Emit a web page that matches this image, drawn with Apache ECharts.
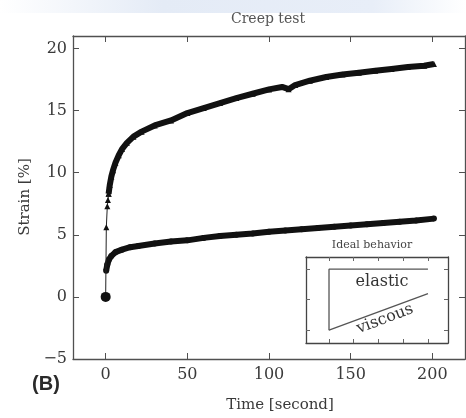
<!DOCTYPE html>
<html><head><meta charset="utf-8">
<script src="https://cdn.jsdelivr.net/npm/echarts@6/dist/echarts.min.js"></script>
<style>html,body{margin:0;padding:0;background:#fff}#c{width:466px;height:418px}</style>
</head><body><div id="c"></div>
<script>
// Main chart data (Time [second], Strain [%])
const upperT = [0, 0.4, 1.0, 1.4, 1.8, 2.5, 3.5, 4.5, 6, 8, 10, 13, 17, 22, 30, 40, 50, 60, 70, 80, 90, 100, 108, 112, 116, 125, 135, 145, 155, 165, 175, 185, 195, 201];
const upperS = [0, 5.6, 7.3, 7.8, 8.3, 9.0, 9.7, 10.2, 10.8, 11.4, 11.9, 12.4, 12.9, 13.3, 13.8, 14.2, 14.8, 15.2, 15.6, 16.0, 16.35, 16.7, 16.9, 16.72, 17.05, 17.4, 17.7, 17.9, 18.05, 18.2, 18.35, 18.5, 18.6, 18.75];
const lowerT = [0, 0.3, 1, 2, 3.5, 6, 10, 15, 20, 30, 40, 50, 60, 70, 80, 90, 100, 110, 120, 130, 140, 150, 160, 170, 180, 190, 201];
const lowerS = [0, 2.1, 2.6, 3.0, 3.3, 3.6, 3.8, 4.0, 4.1, 4.3, 4.45, 4.55, 4.75, 4.9, 5.0, 5.1, 5.25, 5.35, 5.45, 5.55, 5.65, 5.75, 5.85, 5.95, 6.05, 6.15, 6.3];
const xTicks = [0, 50, 100, 150, 200];
const yTicks = [-5, 0, 5, 10, 15, 20];
// Inset "Ideal behavior"
const elasticX = [0, 0, 4];
const elasticY = [0, 2, 2];
const viscousX = [0, 4];
const viscousY = [0, 1.2];
const insetXTicks = [0, 1, 2, 3, 4];
const insetYTicks = [0, 1, 2];

const pair = (xs, ys) => xs.map((x, i) => [x, ys[i]]);
const upper = pair(upperT, upperS);
const lower = pair(lowerT, lowerS);

const serif = 'DejaVu Serif';
const axisCol = '#505050';
const txtCol = '#3a3a3a';

function mainX(show, pos) {
  return {
    type: 'value', gridIndex: 0, min: -20, max: 220, position: pos,
    axisLine: { show: true, onZero: false, lineStyle: { color: axisCol, width: 1.3 } },
    axisTick: { show: true, inside: true, length: 6, customValues: xTicks, lineStyle: { color: axisCol } },
    axisLabel: { show: show, customValues: xTicks, margin: 8, color: txtCol, fontFamily: serif, fontSize: 16 },
    splitLine: { show: false }
  };
}
function mainY(show, pos) {
  return {
    type: 'value', gridIndex: 0, min: -5, max: 21, position: pos,
    axisLine: { show: true, onZero: false, lineStyle: { color: axisCol, width: 1.3 } },
    axisTick: { show: true, inside: true, length: 6, customValues: yTicks, lineStyle: { color: axisCol } },
    axisLabel: { show: show, customValues: yTicks, margin: 6, color: txtCol, fontFamily: serif, fontSize: 16,
      formatter: v => (v < 0 ? '\u2212' + Math.abs(v) : String(v)) },
    splitLine: { show: false }
  };
}
function insetX(pos) {
  return {
    type: 'value', gridIndex: 1, min: -0.93, max: 4.81, position: pos,
    axisLine: { show: true, onZero: false, lineStyle: { color: '#444', width: 1.3 } },
    axisTick: { show: true, inside: true, length: 4, customValues: insetXTicks, lineStyle: { color: '#666' } },
    axisLabel: { show: false }, splitLine: { show: false }
  };
}
function insetY(pos) {
  return {
    type: 'value', gridIndex: 1, min: -0.42, max: 2.4, position: pos,
    axisLine: { show: true, onZero: false, lineStyle: { color: '#444', width: 1.3 } },
    axisTick: { show: true, inside: true, length: 4, customValues: insetYTicks, lineStyle: { color: '#666' } },
    axisLabel: { show: false }, splitLine: { show: false }
  };
}

const chart = echarts.init(document.getElementById('c'), null, { renderer: 'canvas' });
chart.setOption({
  animation: false,
  backgroundColor: '#fff',
  grid: [
    { left: 73, top: 36, right: 1, bottom: 59 },
    { left: 306, top: 257, width: 142, height: 86, backgroundColor: '#fff', show: true, borderWidth: 0 }
  ],
  xAxis: [mainX(true, 'bottom'), mainX(false, 'top'), insetX('bottom'), insetX('top')],
  yAxis: [mainY(true, 'left'), mainY(false, 'right'), insetY('left'), insetY('right')],
  series: [
    { type: 'line', xAxisIndex: 0, yAxisIndex: 0, z: 3,
      data: lower.slice(1), symbol: 'circle', symbolSize: 6,
      lineStyle: { color: '#111', width: 6 }, itemStyle: { color: '#111' } },
    { type: 'line', xAxisIndex: 0, yAxisIndex: 0, z: 3,
      data: upper.slice(4), symbol: 'triangle', symbolSize: 6,
      lineStyle: { color: '#111', width: 6 }, itemStyle: { color: '#111' } },
    { type: 'line', xAxisIndex: 0, yAxisIndex: 0, z: 4,
      data: upper.slice(0, 5).map((p, i) => i === 0 ? { value: p, symbol: 'circle', symbolSize: 10 } : { value: p }),
      symbol: 'triangle', symbolSize: 6,
      lineStyle: { color: '#222', width: 1 }, itemStyle: { color: '#111' } },
    { type: 'line', xAxisIndex: 2, yAxisIndex: 2, z: 6, data: pair(elasticX, elasticY), symbol: 'none',
      lineStyle: { color: '#555', width: 1.3 } },
    { type: 'line', xAxisIndex: 2, yAxisIndex: 2, z: 6, data: pair(viscousX, viscousY), symbol: 'none',
      lineStyle: { color: '#555', width: 1.3 } }
  ],
  graphic: [
    { type: 'rect', z: -1, shape: { x: 0, y: 0, width: 466, height: 13 },
      style: { fill: new echarts.graphic.LinearGradient(0, 0, 1, 0, [
        { offset: 0, color: '#ffffff' }, { offset: 0.35, color: '#e4ebf6' },
        { offset: 0.8, color: '#e8eef8' }, { offset: 1, color: '#ffffff' }]) } },
    { type: 'text', x: 268, y: 19, style: { text: 'Creep test', font: '14px "DejaVu Serif"', fill: '#555', align: 'center', verticalAlign: 'middle' } },
    { type: 'text', x: 25, y: 197, rotation: Math.PI / 2, style: { text: 'Strain [%]', font: '15px "DejaVu Serif"', fill: txtCol, align: 'center', verticalAlign: 'middle' } },
    { type: 'text', x: 280, y: 405, style: { text: 'Time [second]', font: '15px "DejaVu Serif"', fill: txtCol, align: 'center', verticalAlign: 'middle' } },
    { type: 'text', x: 46, y: 384, style: { text: '(B)', font: 'bold 20px "Liberation Sans"', fill: '#2a2a2a', align: 'center', verticalAlign: 'middle' } },
    { type: 'text', x: 372, y: 245, z: 10, style: { text: 'Ideal behavior', font: '11px "DejaVu Serif"', fill: '#444', align: 'center', verticalAlign: 'middle' } },
    { type: 'text', x: 382, y: 282, z: 10, style: { text: 'elastic', font: '16px "DejaVu Serif"', fill: '#333', align: 'center', verticalAlign: 'middle' } },
    { type: 'text', x: 385, y: 319, z: 10, rotation: 0.36, style: { text: 'viscous', font: '16px "DejaVu Serif"', fill: '#333', align: 'center', verticalAlign: 'middle' } }
  ]
});
</script>
</body></html>
